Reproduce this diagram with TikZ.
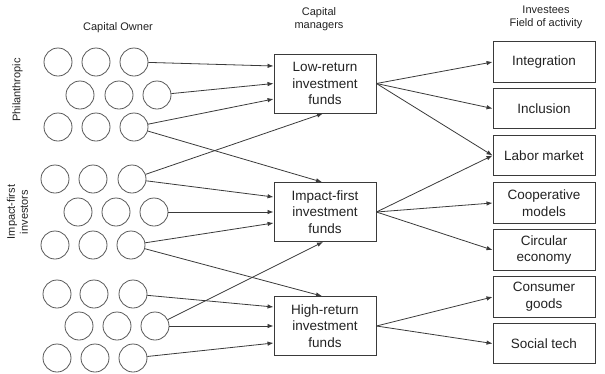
\documentclass[tikz,border=0pt]{standalone}
\usepackage{fontspec}
\setmainfont{Liberation Sans}
\usetikzlibrary{arrows.meta}
\definecolor{ln}{HTML}{3A3A3A}
\definecolor{tx}{HTML}{222222}
\tikzset{
  owner/.style={circle,draw=ln!85,line width=0.8pt,minimum size=28pt,inner sep=0pt},
  mgr/.style={draw=ln,line width=0.9pt,minimum width=102pt,minimum height=59pt,align=center,inner sep=0pt,
    font=\fontsize{13.5pt}{16.7pt}\selectfont,text=tx},
  inv/.style={draw=ln,line width=0.9pt,minimum width=102pt,minimum height=40.5pt,align=center,inner sep=0pt,
    font=\fontsize{13.5pt}{16.7pt}\selectfont,text=tx},
  ttl/.style={align=center,font=\fontsize{11pt}{13pt}\selectfont,text=tx,inner sep=0pt},
  conn/.style={draw=ln,line width=0.8pt,-{Latex[length=6pt,width=4.5pt]}}
}
\begin{document}
\begin{tikzpicture}[x=1pt,y=-1pt]
\useasboundingbox (0,0) rectangle (605,373);
% titles
\node[ttl] (tOwner) at (118,28) {Capital Owner};
\node[ttl] (tMgr) at (319,19.5) {Capital\\managers};
\node[ttl] (tInv) at (546,17.5) {Investees\\Field of activity};
\node[ttl,rotate=90] (tPhil) at (17.5,90) {Philanthropic};
\node[ttl,rotate=90] (tImp) at (17.5,212) {Impact-first\\investors};
% group 1
\node[owner] (g1r1c1) at (58,62) {};
\node[owner] (g1r1c2) at (96,62) {};
\node[owner] (g1r1c3) at (134,62) {};
\node[owner] (g1r2c1) at (80,95) {};
\node[owner] (g1r2c2) at (119,95) {};
\node[owner] (g1r2c3) at (157,95) {};
\node[owner] (g1r3c1) at (58,127) {};
\node[owner] (g1r3c2) at (96,127) {};
\node[owner] (g1r3c3) at (134,127) {};
% group 2
\node[owner] (g2r1c1) at (55,179) {};
\node[owner] (g2r1c2) at (93,179) {};
\node[owner] (g2r1c3) at (132,179) {};
\node[owner] (g2r2c1) at (78,212) {};
\node[owner] (g2r2c2) at (116,212) {};
\node[owner] (g2r2c3) at (154,212) {};
\node[owner] (g2r3c1) at (55,245) {};
\node[owner] (g2r3c2) at (93,245) {};
\node[owner] (g2r3c3) at (131,245) {};
% group 3
\node[owner] (g3r1c1) at (57,294) {};
\node[owner] (g3r1c2) at (94,294) {};
\node[owner] (g3r1c3) at (133,294) {};
\node[owner] (g3r2c1) at (79,326) {};
\node[owner] (g3r2c2) at (117,326) {};
\node[owner] (g3r2c3) at (155,326) {};
\node[owner] (g3r3c1) at (57,358) {};
\node[owner] (g3r3c2) at (95,358) {};
\node[owner] (g3r3c3) at (133,358) {};
% managers
\node[mgr] (low) at (325,83.5) {Low-return\\investment\\funds};
\node[mgr] (imp) at (325,212) {Impact-first\\investment\\funds};
\node[mgr] (high) at (325,326) {High-return\\investment\\funds};
% investees
\node[inv] (integ) at (544,62) {Integration};
\node[inv] (incl) at (544,108.5) {Inclusion};
\node[inv] (labor) at (544,155.5) {Labor market};
\node[inv] (coop) at (544,203) {Cooperative\\models};
\node[inv] (circ) at (544,250) {Circular\\economy};
\node[inv] (cons) at (544,297) {Consumer\\goods};
\node[inv] (soc) at (544,343.5) {Social tech};
% owner -> managers
\draw[conn] (g1r1c3) -- ([yshift=17.5pt]low.west);
\draw[conn] (g1r2c3) -- (low.west);
\draw[conn] (g1r3c3) -- ([yshift=-15.5pt]low.west);
\draw[conn] (g1r3c3) -- ([xshift=-3pt]imp.north);
\draw[conn] (g2r1c3) -- ([xshift=-2pt]low.south);
\draw[conn] (g2r1c3) -- ([yshift=15pt]imp.west);
\draw[conn] (g2r2c3) -- (imp.west);
\draw[conn] (g2r3c3) -- ([yshift=-11pt]imp.west);
\draw[conn] (g2r3c3) -- ([xshift=-3pt]high.north);
\draw[conn] (g3r1c3) -- ([yshift=19pt]high.west);
\draw[conn] (g3r2c3) -- (high.west);
\draw[conn] (g3r2c3) -- ([xshift=-2pt]imp.south);
\draw[conn] (g3r3c3) -- ([yshift=-17pt]high.west);
% managers -> investees
\draw[conn] (low.east) -- (integ.west);
\draw[conn] (low.east) -- (incl.west);
\draw[conn] (low.east) -- (labor.west);
\draw[conn] (imp.east) -- (labor.west);
\draw[conn] (imp.east) -- (coop.west);
\draw[conn] (imp.east) -- (circ.west);
\draw[conn] (high.east) -- (cons.west);
\draw[conn] (high.east) -- (soc.west);
\end{tikzpicture}
\end{document}
